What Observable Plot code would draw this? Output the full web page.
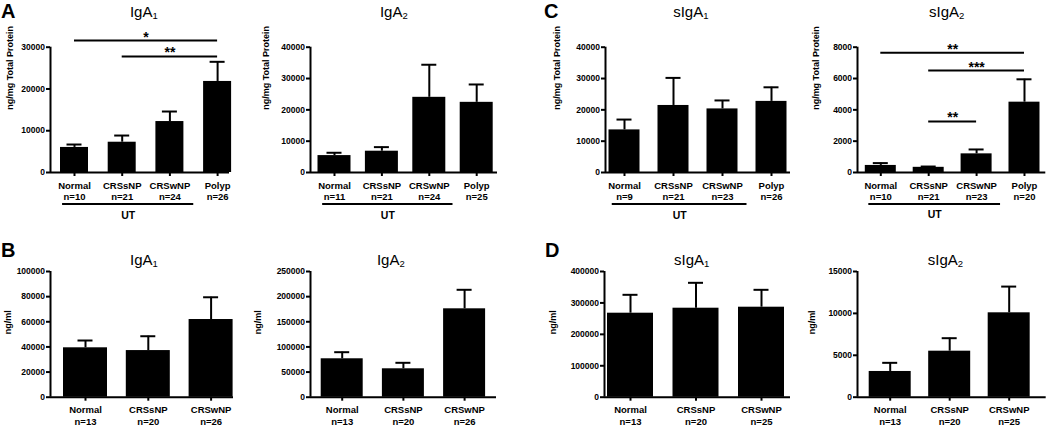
<!DOCTYPE html>
<html>
<head>
<meta charset="utf-8">
<script src="https://cdn.jsdelivr.net/npm/d3@7"></script>
<script src="https://cdn.jsdelivr.net/npm/@observablehq/plot@0.6"></script>
<style>
  html, body { margin: 0; padding: 0; background: #fff; }
  #fig { position: relative; width: 1050px; height: 429px; overflow: hidden; background: #fff;
         font-family: "Liberation Sans", Arial, Helvetica, sans-serif; color: #000; }
  #fig svg { position: absolute; }
  .lbl { position: absolute; white-space: nowrap; color: #000; }
  .sub { font-size: 9.5px; position: relative; top: 2.5px; }
</style>
</head>
<body>
<div id="fig"></div>
<script>
// ---------------- data ----------------
const groups4 = ["Normal", "CRSsNP", "CRSwNP", "Polyp"];
const groups3 = ["Normal", "CRSsNP", "CRSwNP"];

// A: tissue, ng/mg total protein
const nA_IgA1 = [10, 21, 24, 26];
const meanA_IgA1 = [6000, 7250, 12200, 21800];
const semA_IgA1 = [700, 1600, 2400, 4700];
const ticksA_IgA1 = [0, 10000, 20000, 30000];

const nA_IgA2 = [11, 21, 24, 25];
const meanA_IgA2 = [5400, 6800, 24000, 22400];
const semA_IgA2 = [900, 1300, 10400, 5700];
const ticksA_IgA2 = [0, 10000, 20000, 30000, 40000];

// C: tissue secretory
const nC_sIgA1 = [9, 21, 23, 26];
const meanC_sIgA1 = [13600, 21400, 20300, 22700];
const semC_sIgA1 = [3300, 8800, 2700, 4500];
const ticksC_sIgA1 = [0, 10000, 20000, 30000, 40000];

const nC_sIgA2 = [10, 21, 23, 20];
const meanC_sIgA2 = [450, 330, 1190, 4490];
const semC_sIgA2 = [150, 50, 280, 1460];
const ticksC_sIgA2 = [0, 2000, 4000, 6000, 8000];

// B: nasal lavage, ng/ml
const nB_IgA1 = [13, 20, 26];
const meanB_IgA1 = [39300, 37100, 61800];
const semB_IgA1 = [5800, 11400, 17700];
const ticksB_IgA1 = [0, 20000, 40000, 60000, 80000, 100000];

const nB_IgA2 = [13, 20, 26];
const meanB_IgA2 = [76400, 56500, 175800];
const semB_IgA2 = [13100, 11900, 37800];
const ticksB_IgA2 = [0, 50000, 100000, 150000, 200000, 250000];

// D: nasal lavage secretory
const nD_sIgA1 = [13, 20, 25];
const meanD_sIgA1 = [267300, 283200, 286400];
const semD_sIgA1 = [58500, 80800, 55300];
const ticksD_sIgA1 = [0, 100000, 200000, 300000, 400000];

const nD_sIgA2 = [13, 20, 25];
const meanD_sIgA2 = [3070, 5490, 10070];
const semD_sIgA2 = [1030, 1550, 3130];
const ticksD_sIgA2 = [0, 5000, 10000, 15000];

// significance comparisons (group indices + label)
const sigA_IgA1 = [{from: 0, to: 3, label: "*"}, {from: 1, to: 3, label: "**"}];
const sigC_sIgA2 = [{from: 0, to: 3, label: "**"}, {from: 1, to: 3, label: "***"}, {from: 1, to: 2, label: "**"}];

// ---------------- layout ----------------
const sigHeightsA_IgA1 = [31600, 27800];
const sigHeightsC_sIgA2 = [7640, 6510, 3260];

const ROW1 = {svgTop: 20, svgBottom: 225, yTop: 46.7, yBottom: 172};
const ROW2 = {svgTop: 262, svgBottom: 429, yTop: 271, yBottom: 396.7};

const panels = [
  {row: ROW1, title: "IgA", sub: "1", tcx: 143.8, letter: "A", lx: 1, ylabel: "ng/mg Total Protein",
   groups: groups4, n: nA_IgA1, mean: meanA_IgA1, sem: semA_IgA1, ticks: ticksA_IgA1,
   axisX: 50, axisEnd: 229, c0: 74, step: 47.7, bw: 28, labelOffset: 40, ut: true,
   sig: sigA_IgA1, sigH: sigHeightsA_IgA1},
  {row: ROW1, title: "IgA", sub: "2", tcx: 393.8, ylabel: "ng/mg Total Protein",
   groups: groups4, n: nA_IgA2, mean: meanA_IgA2, sem: semA_IgA2, ticks: ticksA_IgA2,
   axisX: 309.5, axisEnd: 496.5, c0: 333.5, step: 47.4, bw: 33, labelOffset: 44, ut: true},
  {row: ROW1, title: "sIgA", sub: "1", tcx: 690.8, letter: "C", lx: 544, ylabel: "ng/mg Total Protein",
   groups: groups4, n: nC_sIgA1, mean: meanC_sIgA1, sem: semC_sIgA1, ticks: ticksC_sIgA1,
   axisX: 605, axisEnd: 790, c0: 624, step: 49, bw: 31, labelOffset: 48, ut: true},
  {row: ROW1, title: "sIgA", sub: "2", tcx: 946.7, ylabel: "ng/mg Total Protein",
   groups: groups4, n: nC_sIgA2, mean: meanC_sIgA2, sem: semC_sIgA2, ticks: ticksC_sIgA2,
   axisX: 856.7, axisEnd: 1045, c0: 880, step: 47.9, bw: 31, labelOffset: 41, ut: true,
   sig: sigC_sIgA2, sigH: sigHeightsC_sIgA2},
  {row: ROW2, title: "IgA", sub: "1", tcx: 144, letter: "B", lx: 1, ylabel: "ng/ml",
   groups: groups3, n: nB_IgA1, mean: meanB_IgA1, sem: semB_IgA1, ticks: ticksB_IgA1,
   axisX: 50, axisEnd: 233, c0: 85, step: 62.8, bw: 44, labelOffset: 42},
  {row: ROW2, title: "IgA", sub: "2", tcx: 390.8, ylabel: "ng/ml",
   groups: groups3, n: nB_IgA2, mean: meanB_IgA2, sem: semB_IgA2, ticks: ticksB_IgA2,
   axisX: 310, axisEnd: 496, c0: 341.7, step: 61.2, bw: 42, labelOffset: 52},
  {row: ROW2, title: "sIgA", sub: "1", tcx: 691.7, letter: "D", lx: 545, ylabel: "ng/ml",
   groups: groups3, n: nD_sIgA1, mean: meanD_sIgA1, sem: semD_sIgA1, ticks: ticksD_sIgA1,
   axisX: 604, axisEnd: 790, c0: 630, step: 65.5, bw: 46, labelOffset: 51},
  {row: ROW2, title: "sIgA", sub: "2", tcx: 945.5, ylabel: "ng/ml",
   groups: groups3, n: nD_sIgA2, mean: meanD_sIgA2, sem: semD_sIgA2, ticks: ticksD_sIgA2,
   axisX: 857.3, axisEnd: 1046, c0: 890, step: 59.5, bw: 42, labelOffset: 45}
];

const FONT = "'Liberation Sans', Arial, Helvetica, sans-serif";
const fig = document.getElementById("fig");

function addHTML(html, {left, cx, baseline, size, weight = "normal"}) {
  const d = document.createElement("div");
  d.className = "lbl";
  d.innerHTML = html;
  d.style.fontSize = size + "px";
  d.style.lineHeight = size + "px";
  d.style.fontWeight = weight;
  d.style.top = Math.max(0, baseline - 0.8465 * size) + "px";
  if (cx != null) { d.style.left = (cx - 100) + "px"; d.style.width = "200px"; d.style.textAlign = "center"; }
  else d.style.left = left + "px";
  fig.appendChild(d);
}

function drawPanel(p) {
  const r = p.row;
  const ML = 75, MR = 8;
  const width = ML + (p.axisEnd - p.axisX) + MR;
  const height = r.svgBottom - r.svgTop;
  const xd0 = (p.axisX - p.c0) / p.step, xd1 = (p.axisEnd - p.c0) / p.step;
  const yMax = p.ticks[p.ticks.length - 1];
  const rows = p.groups.map((g, i) => ({i, g, n: p.n[i], mean: p.mean[i], top: p.mean[i] + p.sem[i]}));
  const hb = p.bw / 2 / p.step, hc = 7.5 / p.step;
  const idx = rows.map(d => d.i);

  const marks = [
    Plot.rectY(rows, {x1: d => d.i - hb, x2: d => d.i + hb, y1: 0, y2: "mean", fill: "black"}),
    Plot.ruleX(rows, {x: "i", y1: "mean", y2: "top", strokeWidth: 2}),
    Plot.ruleY(rows, {y: "top", x1: d => d.i - hc, x2: d => d.i + hc, strokeWidth: 2}),
    Plot.ruleX([xd0], {x: d => d, y1: 0, y2: yMax, strokeWidth: 2}),
    Plot.ruleY([0], {y: d => d, x1: xd0, x2: xd1, strokeWidth: 2}),
    Plot.axisY({ticks: p.ticks, tickSize: 4, tickPadding: 1.5, strokeWidth: 2, label: null,
                tickFormat: d => String(d), fontSize: 8.5, fontWeight: "bold"}),
    Plot.axisX({ticks: idx, tickSize: 4, strokeWidth: 2, label: null, tickFormat: () => ""}),
    Plot.text(rows, {x: "i", y: 0, text: d => `${d.g}\nn=${d.n}`, lineAnchor: "top", dy: 8,
                     lineHeight: 1.2, fontSize: 9.5, fontWeight: "bold", fill: "black"}),
    Plot.text([p.ylabel], {frameAnchor: "left", text: d => d, rotate: -90, dx: -p.labelOffset,
                           lineAnchor: "middle", fontSize: 9, fontWeight: "bold", fill: "black"})
  ];
  if (p.ut) {
    marks.push(Plot.ruleY([0], {y: d => d, x1: -0.25, x2: 2.5, dy: 31.5, strokeWidth: 2}));
    marks.push(Plot.text(["UT"], {x: 1.125, y: 0, text: d => d, dy: 46, lineAnchor: "bottom",
                                  fontSize: 10.5, fontWeight: "bold", fill: "black"}));
  }
  if (p.sig) {
    const s = p.sig.map((d, k) => ({...d, h: p.sigH[k]}));
    marks.push(Plot.ruleY(s, {y: "h", x1: "from", x2: "to", strokeWidth: 2}));
    marks.push(Plot.text(s, {x: d => (d.from + d.to) / 2, y: "h", text: "label", lineAnchor: "bottom",
                             dy: 1, fontSize: 14, fontWeight: "bold", fill: "black"}));
  }

  const svg = Plot.plot({
    width, height,
    marginLeft: ML, marginRight: MR,
    marginTop: r.yTop - r.svgTop, marginBottom: r.svgBottom - r.yBottom,
    x: {type: "linear", domain: [xd0, xd1], axis: null},
    y: {type: "linear", domain: [0, yMax], axis: null},
    style: {background: "none", fontFamily: FONT, color: "black", overflow: "visible"},
    marks
  });
  svg.style.left = (p.axisX - ML) + "px";
  svg.style.top = r.svgTop + "px";
  fig.appendChild(svg);

  const titleBase = r === ROW1 ? 16.5 : 264.5;
  addHTML(`${p.title}<span class="sub">${p.sub}</span>`, {cx: p.tcx, baseline: titleBase, size: 15});
  if (p.letter) addHTML(p.letter, {left: p.lx, baseline: r === ROW1 ? 17.5 : 257, size: 20, weight: "bold"});
}

panels.forEach(drawPanel);
</script>
</body>
</html>
